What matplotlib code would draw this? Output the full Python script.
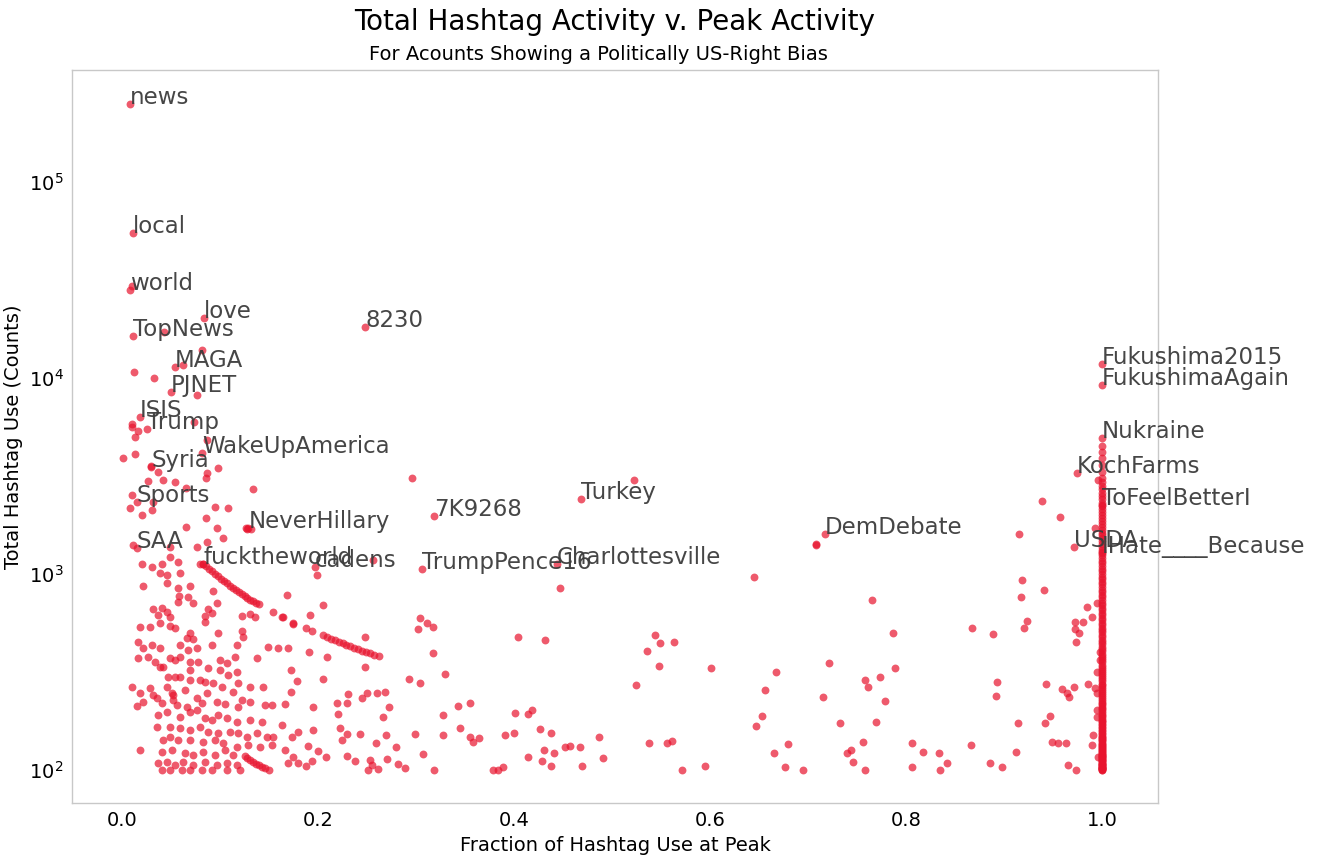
"""
Total hashtag activity vs. fraction of use at peak, US-right accounts.
Sortie : out.png
"""

import matplotlib
matplotlib.use("Agg")
import matplotlib.pyplot as plt

# labelled hashtags: (fraction at peak, total count)
labels = [
    "news", "local", "world", "love", "TopNews", "8230", "MAGA", "PJNET",
    "ISIS", "Trump", "WakeUpAmerica", "Syria", "Sports", "NeverHillary",
    "7K9268", "Turkey", "SAA", "fucktheworld", "cadens", "TrumpPence16",
    "Charlottesville", "DemDebate", "Fukushima2015", "FukushimaAgain",
    "Nukraine", "KochFarms", "ToFeelBetterI", "USDA", "IHate____Because",
]
label_x = [
    0.008, 0.011, 0.008, 0.084, 0.011, 0.248, 0.054, 0.050,
    0.018, 0.026, 0.082, 0.030, 0.015, 0.129,
    0.318, 0.468, 0.015, 0.083, 0.197, 0.306,
    0.444, 0.717, 1.000, 1.000,
    1.000, 0.974, 1.000, 0.971, 1.000,
]
label_y = [
    247000, 54500, 27900, 20100, 16400, 18100, 11400, 8430,
    6290, 5460, 4150, 3500, 2320, 1710,
    1970, 2400, 1350, 1130, 1090, 1060,
    1130, 1590, 11800, 9140,
    4910, 3260, 2240, 1370, 1275,
]

# unlabelled hashtags, upper left part
upper_x = [
    0.010, 0.043, 0.082, 0.062, 0.012, 0.033, 0.076, 0.010, 0.016, 0.073,
    0.013, 0.087, 0.001, 0.013, 0.037, 0.087, 0.098, 0.027, 0.042, 0.054,
    0.086, 0.296, 0.065, 0.134, 0.010, 0.008, 0.032, 0.020, 0.031, 0.095,
    0.108, 0.086, 0.065, 0.097, 0.103, 0.011, 0.049, 0.077, 0.087, 0.020,
    0.031, 0.041, 0.049, 0.057, 0.080, 0.039, 0.046, 0.059, 0.199, 0.256,
    0.126, 0.132, 0.128, 0.030, 0.010,
]
upper_y = [
    29500, 17000, 13800, 11600, 10700, 9930, 8130, 5790, 5330, 5930,
    4970, 4800, 3880, 4070, 3300, 3260, 3450, 2970, 3000, 2950,
    3070, 3070, 2730, 2700, 2520, 2160, 2320, 1990, 2110, 2190,
    2160, 1920, 1730, 1710, 1520, 1400, 1370, 1370, 1450, 1130,
    1090, 1130, 1220, 1150, 1130, 1010, 985, 1010, 985, 1173,
    1720, 1700, 1690, 3550, 5600,
]

# dense cloud, bottom left
cloud_x = [
    0.021, 0.046, 0.057, 0.069, 0.093, 0.058, 0.067, 0.057, 0.072, 0.097,
    0.032, 0.041, 0.046, 0.037, 0.049, 0.088, 0.085, 0.092, 0.122, 0.131,
    0.136, 0.085, 0.018, 0.029, 0.039, 0.049, 0.054, 0.069, 0.066, 0.072,
    0.098, 0.122, 0.123, 0.117, 0.016, 0.021, 0.031, 0.039, 0.059, 0.067,
    0.077, 0.092, 0.027, 0.016, 0.034, 0.039, 0.049, 0.054, 0.059, 0.069,
    0.078, 0.100, 0.107, 0.115, 0.138, 0.149, 0.159, 0.042, 0.047, 0.054,
    0.059, 0.069, 0.088, 0.100, 0.108, 0.117, 0.010, 0.018, 0.029, 0.032,
    0.046, 0.051, 0.064, 0.069, 0.080, 0.085, 0.093, 0.102, 0.113, 0.118,
    0.131, 0.144, 0.015, 0.021, 0.036, 0.041, 0.052, 0.052, 0.056, 0.066,
    0.077, 0.082, 0.087, 0.097, 0.105, 0.118, 0.122, 0.131, 0.146, 0.153,
    0.037, 0.046, 0.059, 0.069, 0.077, 0.085, 0.092, 0.098, 0.107, 0.117,
    0.131, 0.143, 0.036, 0.049, 0.059, 0.069, 0.080, 0.088, 0.098, 0.110,
    0.118, 0.128, 0.138, 0.148, 0.154, 0.042, 0.049, 0.057, 0.069, 0.083,
    0.095, 0.103, 0.117, 0.129, 0.141, 0.153, 0.018, 0.041, 0.051, 0.064,
    0.072, 0.083, 0.095, 0.105, 0.113, 0.037, 0.046, 0.054, 0.062, 0.072,
    0.085, 0.097, 0.107, 0.117, 0.041, 0.049, 0.061, 0.069, 0.082, 0.092,
    0.107, 0.120,
    # middle left
    0.168, 0.205, 0.164, 0.192, 0.174, 0.248, 0.169, 0.191, 0.209, 0.304,
    0.311, 0.302, 0.317, 0.317, 0.404, 0.248, 0.172, 0.179, 0.205, 0.172,
    0.330, 0.293, 0.304, 0.231, 0.245, 0.250, 0.260, 0.268, 0.166, 0.195,
    0.219, 0.230, 0.272, 0.343, 0.355, 0.220, 0.266, 0.327, 0.401, 0.414,
    0.163, 0.195, 0.222, 0.230, 0.243, 0.269, 0.299, 0.328, 0.345, 0.355,
    0.358, 0.364, 0.391, 0.400, 0.173, 0.180, 0.224, 0.190, 0.259, 0.280,
    0.166, 0.200, 0.174, 0.208, 0.230, 0.270, 0.307, 0.253, 0.169, 0.180,
    0.188, 0.194, 0.238, 0.255, 0.282, 0.289, 0.251, 0.261, 0.318, 0.379,
    0.384, 0.389, 0.414,
]
cloud_y = [
    866, 897, 846, 866, 817, 771, 762, 720, 711, 711,
    661, 669, 638, 616, 602, 661, 609, 631, 609, 623,
    602, 568, 535, 535, 562, 541, 530, 500, 471, 465,
    500, 511, 476, 433, 449, 418, 433, 418, 433, 409,
    418, 433, 376, 372, 355, 335, 372, 364, 376, 355,
    355, 364, 351, 376, 372, 424, 418, 335, 298, 298,
    298, 324, 331, 324, 305, 316, 265, 247, 262, 241,
    265, 247, 256, 288, 288, 281, 277, 265, 250, 277,
    265, 265, 212, 222, 233, 219, 241, 228, 215, 209,
    233, 219, 247, 222, 217, 209, 228, 222, 215, 215,
    191, 197, 186, 197, 202, 184, 180, 191, 184, 176,
    180, 176, 166, 166, 164, 160, 166, 156, 154, 156,
    154, 147, 154, 147, 147, 142, 147, 142, 142, 139,
    142, 137, 131, 134, 131, 134, 126, 124, 126, 122,
    119, 124, 119, 126, 119, 109, 110, 106, 110, 106,
    110, 106, 109, 106, 100, 100, 100, 100, 100, 100,
    100, 100,
    780, 695, 602, 616, 555, 476, 418, 399, 376, 595,
    562, 523, 535, 394, 476, 335, 324, 284, 291, 249,
    308, 291, 277, 244, 233, 247, 247, 250, 217, 209,
    219, 219, 209, 212, 219, 193, 186, 191, 195, 193,
    170, 160, 164, 153, 153, 151, 153, 151, 164, 147,
    139, 146, 151, 154, 147, 156, 142, 133, 137, 131,
    126, 125, 116, 116, 118, 114, 121, 112, 109, 109,
    105, 111, 111, 106, 107, 102, 100, 101, 100, 100,
    100, 104, 116,
]

# sparse part, middle and right
right_x = [
    0.447, 0.522, 0.645, 0.765, 0.708, 0.939, 0.957, 0.915, 0.993, 0.996,
    0.432, 0.544, 0.549, 0.563, 0.536, 0.601, 0.667, 0.721, 0.789, 0.548,
    0.524, 0.656, 0.715, 0.758, 0.761, 0.773, 0.778, 0.733, 0.769, 0.647,
    0.653, 0.680, 0.665, 0.676, 0.695, 0.740, 0.744, 0.746, 0.756, 0.758,
    0.806, 0.817, 0.834, 0.806, 0.835, 0.842, 0.538, 0.556, 0.561, 0.571,
    0.595, 0.418, 0.426, 0.438, 0.431, 0.441, 0.452, 0.457, 0.467, 0.487,
    0.491, 0.469, 0.429, 0.438, 0.787,
    0.918, 0.917, 0.941, 0.995, 0.985, 0.990, 0.972, 0.981, 0.972, 0.976,
    0.973, 0.867, 0.889, 0.923, 0.920, 0.998, 0.998, 0.995, 0.893, 0.892,
    0.943, 0.959, 0.964, 0.966, 0.971, 0.986, 0.993, 0.995, 0.995, 0.947,
    0.942, 0.914, 0.995, 0.991, 0.990, 0.949, 0.955, 0.963, 0.996, 0.866,
    0.912, 0.886, 0.898, 0.965, 0.973, 0.708,
]
right_y = [
    846, 3000, 962, 735, 1398, 2360, 1940, 1590, 1710, 3000,
    460, 488, 443, 449, 404, 331, 316, 351, 331, 339,
    271, 256, 235, 288, 265, 298, 225, 174, 176, 168,
    188, 136, 122, 104, 100, 122, 126, 110, 139, 100,
    137, 124, 122, 104, 100, 109, 137, 137, 140, 100,
    105, 202, 162, 154, 126, 122, 131, 133, 131, 147,
    115, 105, 111, 105, 500,
    929, 762, 826, 711, 677, 602, 568, 568, 523, 500,
    449, 530, 494, 574, 530, 399, 364, 316, 281, 238,
    274, 259, 247, 235, 265, 274, 262, 247, 202, 188,
    174, 174, 186, 151, 134, 139, 137, 137, 116, 134,
    124, 109, 104, 106, 100, 1420,
]

# hashtags used only on their peak day (fraction = 1.0)
peak_one_counts = [
    100, 100, 101, 101, 102, 102, 103, 104, 104, 105, 106, 106, 107, 108,
    109, 110, 111, 112, 113, 114, 115, 116, 117, 118, 119, 120, 121, 122,
    124, 125, 126, 128, 129, 131, 133, 134, 136, 138, 140, 142, 144, 146,
    148, 150, 153, 155, 158, 160, 163, 166, 169, 172, 175, 178, 181, 185,
    188, 192, 196, 200, 204, 208, 212, 217, 221, 226, 231, 236, 241, 246,
    252, 258, 264, 270, 276, 283, 290, 297, 304, 312, 320, 328, 336, 345,
    354, 363, 373, 383, 393, 404, 415, 426, 438, 450, 463, 476, 489, 503,
    518, 533, 548, 564, 581, 598, 616, 634, 653, 673, 693, 714, 736, 759,
    782, 806, 831, 857, 884, 912, 940, 970, 1000, 1030, 1065, 1100, 1135,
    1170, 1210, 1250, 1290, 1330, 1375, 1420, 1470, 1520, 1570, 1625, 1680,
    1740, 1800, 1860, 1930, 2000, 2070, 2150, 2230, 2310, 2400, 2490, 2590,
    2700, 2810, 2930, 3070, 3300, 3600, 3900, 4200, 4500,
]

# hashtags with a peak of about 100 uses
streak_x = [
    0.083, 0.086, 0.089, 0.092, 0.095, 0.098, 0.101, 0.104, 0.107, 0.110,
    0.113, 0.116, 0.119, 0.122, 0.125, 0.128, 0.131, 0.134, 0.137, 0.140,
    0.154, 0.163, 0.174, 0.188, 0.194,
    0.205, 0.209, 0.213, 0.217, 0.221, 0.225, 0.229, 0.233, 0.237, 0.241,
    0.245, 0.249, 0.253, 0.257, 0.262,
    0.125, 0.128, 0.131, 0.134, 0.137, 0.140, 0.143, 0.146, 0.150,
]
streak_y = [
    1130, 1095, 1060, 1030, 1000, 975, 945, 920, 895, 870,
    850, 830, 810, 790, 770, 755, 740, 725, 710, 700,
    640, 600, 560, 530, 510,
    490, 478, 468, 460, 452, 444, 436, 428, 421, 414,
    407, 400, 394, 388, 382,
    118, 115, 112, 110, 108, 106, 104, 102, 100,
]

DOT = dict(s=32, color="#e8142e", alpha=0.7, linewidths=0)


def main():
    fig = plt.figure(figsize=(13.29, 8.59), dpi=100)
    ax = fig.add_axes([0.0542, 0.0652, 0.8171, 0.8533])

    xs = label_x + upper_x + cloud_x + right_x + [1.0] * len(peak_one_counts) + streak_x
    ys = label_y + upper_y + cloud_y + right_y + peak_one_counts + streak_y
    ax.scatter(xs, ys, **DOT)

    for name, x, y in zip(labels, label_x, label_y):
        ax.text(x, y, name, fontsize=16.5, color="#3c3c3c", alpha=0.95)

    ax.set_yscale("log")
    ax.set_xlim(-0.051, 1.057)
    ax.set_ylim(68, 370000)
    ax.set_xticks([0.0, 0.2, 0.4, 0.6, 0.8, 1.0])
    ax.set_yticks([1e2, 1e3, 1e4, 1e5])
    ax.minorticks_off()
    ax.tick_params(length=0, labelsize=14, pad=6)
    for sp in ax.spines.values():
        sp.set_color("#c8c8c8")
        sp.set_linewidth(1.0)

    ax.set_xlabel("Fraction of Hashtag Use at Peak", fontsize=14, labelpad=4)
    ax.set_ylabel("Total Hashtag Use (Counts)", fontsize=14, labelpad=4)

    fig.text(0.4628, 0.974, "Total Hashtag Activity v. Peak Activity",
             ha="center", va="center", fontsize=20)
    fig.text(0.450, 0.936, "For Acounts Showing a Politically US-Right Bias",
             ha="center", va="center", fontsize=14)

    fig.savefig("out.png", dpi=100)


if __name__ == "__main__":
    main()
